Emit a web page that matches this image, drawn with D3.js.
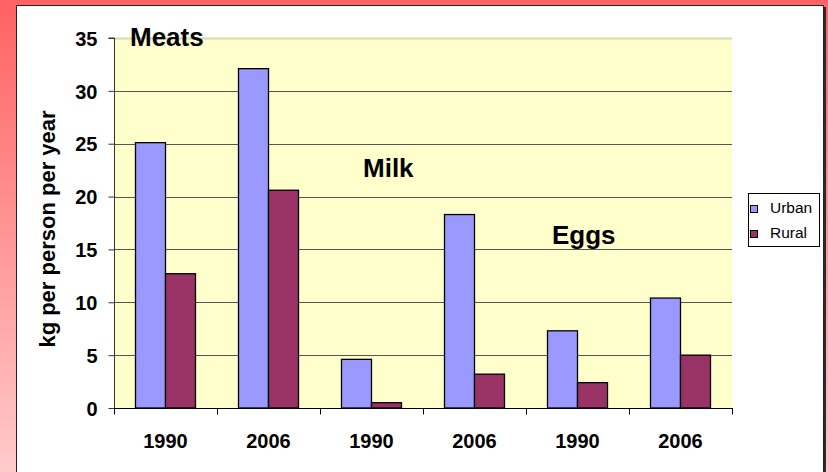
<!DOCTYPE html>
<html><head><meta charset="utf-8">
<script src="https://cdn.jsdelivr.net/npm/d3@7"></script>
<style>body{margin:0;padding:0;overflow:hidden}svg{display:block}</style>
</head><body>
<script>
const categories = ["1990","2006","1990","2006","1990","2006"];
const groupLabels = ["Meats","Milk","Eggs"];
const series = ["Urban","Rural"];
const urban = [25.1, 32.1, 4.6, 18.3, 7.3, 10.4];
const rural = [12.7, 20.6, 0.5, 3.2, 2.4, 5.0];
const yTicks = [0,5,10,15,20,25,30,35];
const colors = ["#9999ff","#993366"];

const FONT="Liberation Sans, Arial, sans-serif";
const W=828,H=472;
const svg=d3.select("body").append("svg").attr("width",W).attr("height",H);
const defs=svg.append("defs");
const g=defs.append("linearGradient").attr("id","bg").attr("x1",0).attr("y1",0).attr("x2",0).attr("y2",1);
g.append("stop").attr("offset","0%").attr("stop-color","#ff6262");
g.append("stop").attr("offset","100%").attr("stop-color","#ffcaca");
svg.append("rect").attr("width",W).attr("height",H).attr("fill","url(#bg)");
svg.append("rect").attr("x",18).attr("y",7).attr("width",808).attr("height",H).attr("fill","#2a2a2a");
svg.append("rect").attr("x",16.5).attr("y",5.5).attr("width",807).attr("height",H).attr("fill","#fff").attr("stroke","#222").attr("stroke-width",1);

const L=114,R=732,T=38,B=408;
const x=d3.scaleBand().domain(d3.range(categories.length)).range([L,R]);
const y=d3.scaleLinear().domain([0,35]).range([B,T]);
svg.append("rect").attr("x",L).attr("y",T).attr("width",R-L).attr("height",B-T).attr("fill","#ffffcc");
svg.append("line").attr("x1",L).attr("x2",R).attr("y1",T+0.5).attr("y2",T+0.5).attr("stroke","#d8d8a8").attr("stroke-width",2);
yTicks.filter(d=>d>0&&d<35).forEach(t=>{
  svg.append("line").attr("x1",L).attr("x2",R).attr("y1",Math.round(y(t))+0.5).attr("y2",Math.round(y(t))+0.5).attr("stroke","#555").attr("stroke-width",1);
});
const bw=30;
[urban,rural].forEach((arr,si)=>{
  svg.append("g").selectAll("rect").data(arr).enter().append("rect")
    .attr("x",(d,i)=>x(i)+x.bandwidth()/2-bw+si*bw)
    .attr("y",d=>y(d)).attr("width",bw).attr("height",d=>B-y(d))
    .attr("fill",colors[si]).attr("stroke","#000").attr("stroke-width",1.3);
});
const ya=svg.append("g").attr("transform",`translate(${L+0.5},0)`)
  .call(d3.axisLeft(y).tickValues(yTicks).tickSize(6).tickPadding(8).tickFormat(d3.format("d")));
ya.select(".domain").attr("stroke","#333").attr("d",`M-6,${T}H0V${B}`);
ya.selectAll(".tick line").attr("stroke","#333");
ya.selectAll("text").attr("font-family",FONT).attr("font-size",20).attr("font-weight","bold").attr("fill","#000").attr("dx",-3).attr("dy","0.36em");
const xa=svg.append("g").attr("transform",`translate(0,${B+0.5})`);
xa.append("line").attr("x1",L).attr("x2",R+1).attr("stroke","#000");
d3.range(categories.length+1).forEach(i=>{
  const xx=L+i*x.bandwidth();
  xa.append("line").attr("x1",Math.round(xx)+0.5).attr("x2",Math.round(xx)+0.5).attr("y1",0).attr("y2",6).attr("stroke","#000");
});
xa.selectAll("text.xl").data(categories).enter().append("text").attr("class","xl")
  .attr("x",(d,i)=>x(i)+x.bandwidth()/2).attr("y",39).attr("text-anchor","middle")
  .attr("font-family",FONT).attr("font-size",20).attr("font-weight","bold").text(d=>d);
svg.append("text").attr("transform",`translate(55,${(T+B)/2+6}) rotate(-90)`).attr("text-anchor","middle")
  .attr("font-family",FONT).attr("font-size",22).attr("font-weight","bold").text("kg per person per year");
const gl=[[130,46],[363,177],[552,244]];
groupLabels.forEach((t,i)=>{
  svg.append("text").attr("x",gl[i][0]).attr("y",gl[i][1]).attr("font-family",FONT)
    .attr("font-size",26).attr("font-weight","bold").text(t);
});
const lg=svg.append("g");
lg.append("rect").attr("x",748.5).attr("y",193.5).attr("width",71).attr("height",53).attr("fill","#fff").attr("stroke","#000");
series.forEach((s,i)=>{
  lg.append("rect").attr("x",750.5).attr("y",205.5+i*25).attr("width",7).attr("height",7).attr("fill",colors[i]).attr("stroke","#000");
  lg.append("text").attr("x",770).attr("y",213+i*25).attr("font-family",FONT).attr("font-size",15.5).text(s);
});
</script>
</body></html>
